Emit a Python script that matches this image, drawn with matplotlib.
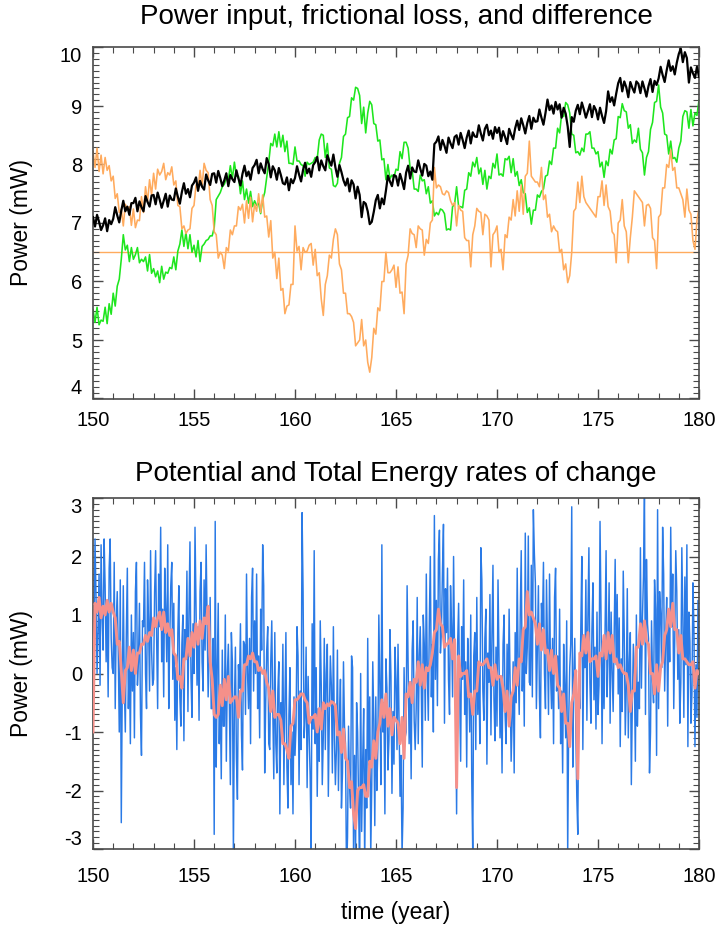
import numpy as np
import matplotlib
matplotlib.use("Agg")
import matplotlib.pyplot as plt
from matplotlib.ticker import MultipleLocator, FixedLocator, FuncFormatter

plt.rcParams['font.family'] = ['Liberation Sans', 'DejaVu Sans']
plt.rcParams['axes.unicode_minus'] = False

# time axis: model years 150-180
YEAR_START = 150.0
YEAR_END = 180.0
N_COARSE = 301   # 0.1-year samples
N_FINE = 601     # 0.05-year samples (potential-energy rate)

# ---- upper panel (mW), 0.1-year samples ----
power_input = [
    7.10, 6.94, 7.14, 7.02, 6.88, 6.96, 7.08, 6.86, 7.05, 6.98,
    7.07, 7.27, 7.13, 7.01, 7.21, 7.38, 7.20, 7.28, 7.14, 7.34,
    7.34, 7.43, 7.20, 7.37, 7.27, 7.20, 7.46, 7.36, 7.28, 7.47,
    7.48, 7.32, 7.52, 7.40, 7.26, 7.38, 7.50, 7.28, 7.47, 7.40,
    7.39, 7.59, 7.45, 7.33, 7.53, 7.68, 7.50, 7.58, 7.44, 7.64,
    7.69, 7.78, 7.55, 7.72, 7.62, 7.57, 7.83, 7.73, 7.65, 7.84,
    7.85, 7.69, 7.89, 7.77, 7.63, 7.73, 7.85, 7.63, 7.82, 7.75,
    7.70, 7.90, 7.76, 7.64, 7.84, 7.98, 7.80, 7.88, 7.74, 7.94,
    7.99, 8.08, 7.85, 8.02, 7.92, 7.85, 8.11, 8.01, 7.78, 7.97,
    7.90, 7.74, 7.94, 7.82, 7.68, 7.66, 7.78, 7.56, 7.75, 7.68,
    7.77, 7.97, 7.83, 7.71, 7.91, 8.03, 7.85, 7.93, 7.79, 7.99,
    8.04, 8.13, 7.90, 8.07, 7.97, 7.90, 8.16, 8.06, 7.98, 8.17,
    7.95, 7.79, 7.99, 7.87, 7.73, 7.64, 7.76, 7.54, 7.73, 7.66,
    7.42, 7.62, 7.48, 7.10, 7.36, 7.33, 7.20, 6.98, 7.02, 7.19,
    7.39, 7.48, 7.25, 7.42, 7.32, 7.55, 7.81, 7.71, 7.63, 7.82,
    7.80, 7.64, 7.84, 7.72, 7.58, 7.86, 7.98, 7.76, 7.95, 7.88,
    7.87, 8.07, 7.93, 7.81, 8.01, 7.98, 7.80, 7.88, 7.74, 8.35,
    8.39, 8.48, 8.25, 8.42, 8.32, 8.20, 8.46, 8.36, 8.28, 8.47,
    8.50, 8.34, 8.54, 8.42, 8.28, 8.46, 8.58, 8.36, 8.55, 8.48,
    8.47, 8.67, 8.53, 8.41, 8.61, 8.68, 8.50, 8.58, 8.44, 8.64,
    8.54, 8.63, 8.40, 8.57, 8.47, 8.35, 8.61, 8.51, 8.43, 8.62,
    8.75, 8.59, 8.79, 8.67, 8.53, 8.71, 8.83, 8.61, 8.80, 8.73,
    8.74, 8.94, 8.80, 8.68, 8.88, 9.11, 8.93, 9.01, 8.87, 9.07,
    8.94, 9.03, 8.80, 8.97, 8.87, 8.65, 8.30, 8.81, 8.73, 8.92,
    9.02, 8.86, 9.06, 8.94, 8.80, 8.91, 9.03, 8.81, 9.00, 8.93,
    8.77, 8.97, 8.83, 8.71, 8.91, 9.25, 9.07, 9.15, 9.01, 9.21,
    9.39, 9.48, 9.25, 9.42, 9.32, 9.15, 9.41, 9.31, 9.23, 9.42,
    9.38, 9.22, 9.42, 9.30, 9.16, 9.34, 9.46, 9.24, 9.43, 9.36,
    9.47, 9.67, 9.53, 9.41, 9.61, 9.78, 9.60, 9.68, 9.54, 9.74,
    9.89, 9.98, 9.75, 9.92, 9.82, 9.40, 9.66, 9.56, 9.48, 9.67,
    9.50,
]

frictional_loss = [
    5.52, 5.30, 5.56, 5.26, 5.34, 5.32, 5.56, 5.28, 5.62, 5.44,
    5.80, 5.58, 5.92, 6.04, 6.38, 6.80, 6.54, 6.62, 6.34, 6.58,
    6.38, 6.46, 6.58, 6.32, 6.38, 6.34, 6.42, 6.18, 6.46, 6.14,
    6.22, 6.08, 6.18, 5.98, 6.26, 6.04, 6.16, 6.14, 6.24, 6.22,
    6.42, 6.20, 6.52, 6.64, 6.88, 6.60, 6.84, 6.56, 6.80, 6.50,
    6.62, 6.42, 6.70, 6.34, 6.60, 6.64, 6.70, 6.72, 6.78, 6.78,
    6.92, 7.40, 7.46, 7.52, 7.62, 7.66, 7.76, 7.74, 7.98, 7.76,
    8.04, 7.80, 7.80, 7.50, 7.72, 7.40, 7.58, 7.34, 7.54, 7.28,
    7.38, 7.30, 7.34, 7.16, 7.40, 7.52, 7.78, 8.04, 8.36, 8.32,
    8.52, 8.30, 8.56, 8.30, 8.50, 8.22, 8.40, 8.02, 8.02, 8.00,
    8.30, 8.06, 8.06, 8.00, 7.98, 7.80, 8.04, 8.00, 8.02, 8.04,
    8.12, 8.10, 8.42, 8.52, 8.50, 8.12, 8.36, 7.94, 7.92, 7.64,
    7.62, 7.68, 8.02, 8.12, 8.48, 8.52, 8.80, 8.82, 9.14, 9.10,
    9.32, 9.30, 9.18, 8.70, 8.98, 8.54, 8.88, 9.08, 9.02, 8.70,
    8.68, 8.40, 8.42, 8.08, 8.10, 7.74, 8.00, 7.76, 7.82, 7.78,
    7.92, 7.90, 8.22, 8.10, 8.38, 8.38, 8.28, 7.94, 7.90, 7.58,
    7.58, 7.54, 7.82, 7.72, 7.74, 7.50, 7.62, 7.34, 7.38, 7.12,
    7.18, 7.14, 7.24, 7.22, 7.16, 6.88, 6.90, 6.88, 7.28, 7.32,
    7.62, 7.28, 7.28, 7.26, 7.56, 7.58, 7.86, 7.80, 8.04, 7.96,
    8.12, 7.84, 7.94, 7.66, 7.90, 7.58, 7.80, 7.76, 8.02, 7.94,
    8.18, 7.82, 7.84, 7.80, 8.10, 8.08, 8.14, 7.86, 8.10, 7.80,
    7.88, 7.64, 7.74, 7.52, 7.50, 7.18, 7.26, 6.98, 7.22, 7.22,
    7.48, 7.44, 7.54, 7.58, 7.80, 7.82, 8.06, 8.00, 8.28, 8.28,
    8.62, 8.54, 8.86, 8.82, 9.06, 9.02, 8.88, 8.52, 8.50, 8.20,
    8.22, 8.16, 8.28, 8.22, 8.52, 8.52, 8.56, 8.28, 8.28, 8.18,
    8.22, 7.96, 8.04, 7.78, 8.06, 7.98, 8.26, 8.18, 8.42, 8.44,
    8.82, 8.80, 9.04, 8.92, 8.90, 8.62, 8.68, 8.36, 8.42, 8.38,
    8.62, 8.26, 8.20, 7.82, 8.12, 8.22, 8.60, 8.72, 9.06, 9.08,
    9.36, 8.98, 8.88, 8.52, 8.50, 8.18, 8.40, 8.10, 8.12, 8.04,
    8.28, 8.40, 8.82, 8.92, 8.90, 8.62, 8.94, 8.66, 8.88, 8.84,
    9.10,
]

difference = [
    8.22, 7.95, 8.28, 7.88, 8.16, 7.84, 8.12, 7.90, 7.98, 7.72,
    7.80, 7.42, 7.50, 7.18, 7.24, 6.95, 7.32, 7.22, 7.28, 6.96,
    7.24, 6.92, 7.05, 7.04, 7.45, 7.18, 7.62, 7.36, 7.74, 7.48,
    7.85, 7.58, 7.92, 7.82, 7.88, 8.02, 7.74, 7.86, 7.82, 7.96,
    7.65, 7.72, 7.30, 7.28, 6.90, 6.95, 6.82, 6.88, 6.90, 7.25,
    7.30, 7.65, 7.58, 7.90, 7.62, 8.02, 7.90, 7.86, 7.40, 7.30,
    6.85, 6.80, 6.40, 6.50, 6.45, 6.22, 6.58, 6.52, 6.88, 6.80,
    6.95, 6.95, 7.28, 7.22, 7.32, 7.00, 7.38, 7.08, 7.44, 7.02,
    7.32, 7.20, 7.50, 7.18, 7.48, 7.10, 7.12, 6.76, 7.04, 6.40,
    6.50, 6.05, 6.40, 5.85, 5.88, 5.45, 5.58, 5.60, 5.95, 5.95,
    6.95, 6.52, 6.60, 6.20, 6.58, 6.50, 6.52, 6.62, 6.65, 6.28,
    6.55, 6.10, 6.15, 5.70, 5.42, 5.95, 6.10, 6.45, 6.40, 6.72,
    6.90, 6.80, 6.30, 6.20, 5.80, 5.80, 5.45, 5.45, 5.40, 5.30,
    4.90, 4.95, 5.00, 5.35, 4.90, 5.00, 4.62, 4.45, 4.70, 5.20,
    5.10, 5.55, 5.50, 6.00, 6.00, 6.50, 6.15, 6.15, 6.20, 6.28,
    5.90, 6.25, 5.80, 5.82, 5.45, 6.30, 6.45, 6.90, 6.82, 6.80,
    6.58, 6.95, 6.90, 6.88, 6.45, 6.72, 6.65, 7.00, 7.05, 7.95,
    7.60, 7.65, 7.62, 7.50, 7.48, 7.55, 7.52, 7.38, 7.30, 7.35,
    6.95, 7.30, 7.22, 7.20, 6.75, 6.70, 6.70, 6.25, 6.80, 6.95,
    7.25, 7.20, 7.18, 6.80, 7.15, 7.12, 7.05, 6.25, 6.80, 6.85,
    6.95, 6.50, 6.55, 6.20, 6.80, 6.75, 7.10, 7.05, 7.40, 7.12,
    7.55, 7.20, 7.65, 7.15, 7.80, 7.85, 8.40, 7.80, 7.75, 7.70,
    7.70, 7.62, 7.95, 7.40, 7.48, 7.10, 7.15, 6.85, 6.95, 6.88,
    6.85, 6.50, 6.55, 6.20, 6.30, 5.98, 6.10, 6.50, 7.20, 7.25,
    7.70, 7.35, 7.80, 7.45, 7.35, 7.30, 7.25, 7.20, 7.15, 7.10,
    7.45, 7.45, 7.72, 7.30, 7.65, 7.28, 7.20, 6.85, 6.80, 6.32,
    7.00, 7.05, 7.40, 6.95, 6.85, 6.32, 6.75, 7.10, 7.55, 7.50,
    7.45, 7.40, 7.35, 6.95, 7.30, 7.32, 7.25, 6.75, 6.70, 6.22,
    7.10, 7.15, 7.60, 7.60, 8.00, 7.95, 8.25, 7.90, 7.95, 7.60,
    7.60, 7.50, 7.40, 7.10, 7.58, 7.22, 7.15, 6.70, 6.55, 7.05,
    7.25,
]

difference_mean = 6.5

# ---- lower panel (mW) ----
# potential-energy rate, 0.05-year samples (one row per year)
pe_rate = [
    -0.2, 0.8, 2.3, 1.3, 0.0, 0.7, 1.7, -0.2, 2.2, 1.0, 0.4, 2.3, 1.5, 0.2, 1.2, -0.4, 1.8, 2.3, 0.6, 0.1,
    0.0, 1.9, -0.6, 0.9, 1.4, 0.4, -1.0, 1.6, -2.55, -0.2, 1.5, -0.2, -1.0, 0.7, 1.8, -0.6, 0.3, -1.2, 1.0, -0.3,
    0.7, -1.1, 1.4, 1.9, -0.2, 0.2, 1.2, -0.7, -1.4, 0.9, 0.8, 1.9, 0.0, -0.6, 1.6, 0.9, -0.3, 2.1, 0.4, -0.2,
    -0.1, 1.4, 2.1, 0.6, -0.6, 1.7, 0.8, 2.5, 0.2, 1.1, -0.4, 1.8, 1.1, 0.2, 2.2, -0.6, 0.6, 1.5, 1.9, -0.1,
    1.2, -0.8, 0.1, -1.3, 0.7, 1.5, -0.4, -0.9, 0.5, 1.0, -1.15, 0.75, 0.25, 1.75, -0.65, 1.05, 2.25, -0.05, -0.75, 0.85,
    0.0, 2.5, 1.1, -0.2, 0.8, -0.8, 1.4, 1.9, 0.2, -0.3, 1.6, 0.4, 2.2, 0.9, -0.4, 0.3, 1.3, -0.6, -0.6, 0.6,
    -2.75, 2.6, -1.6, 0.1, 1.2, -1.2, -0.3, -1.8, 0.4, -0.9, -0.9, 1.0, -1.5, 0.0, 0.5, -0.5, -1.9, 0.7, 0.2, -3.1,
    -0.55, 0.45, -1.45, -2.15, 0.15, -0.25, 0.85, -1.05, -1.65, 0.55, 0.5, -0.7, 1.7, 0.0, -0.6, 0.6, -1.2, 1.3, 1.8, -0.3,
    0.9, 0.0, 1.7, -0.6, 0.3, -1.1, 1.1, 0.4, 2.2, 1.5, -1.7, -0.5, 0.4, 0.8, -1.2, -1.3, 0.2, 0.9, -0.6, -1.8,
    0.7, -1.2, -1.7, -0.3, 0.2, -2.4, -0.5, -1.0, 0.5, -1.9, -0.5, 0.7, -1.6, -2.3, -0.7, 0.1, -1.9, -1.0, -2.4, -0.4,
    -1.4, -0.9, 0.8, 0.3, -1.9, -0.3, -1.3, 2.75, 1.4, -1.1, -0.75, 0.45, -1.95, -0.05, -1.05, -1.75, -3.0, 0.85, -0.95, 2.1,
    -1.2, 0.1, -2.1, -0.6, -1.5, 0.9, -0.2, -1.9, -1.1, 0.6, -1.3, 0.0, 0.5, -2.1, -0.7, 0.3, -0.2, -1.7, 0.8, -1.1,
    -1.9, -1.3, 0.4, -2.0, -0.8, -0.1, -2.3, -1.7, 0.2, -0.9, -1.2, -3.5, -2.8, -0.9, -1.9, -2.3, 0.3, 0.1, -3.2, -1.4,
    -3.0, -0.5, -1.0, -2.3, -3.5, 0.0, -2.7, -1.5, -0.6, -3.3, -1.3, -2.3, 0.6, -1.7, -0.4, -3.1, -1.9, 0.2, -0.8, -2.6,
    -0.4, -2.0, -1.3, 1.0, -0.2, -1.9, 2.2, -1.0, -0.5, -2.4, 0.25, -0.25, -1.65, -1.15, 0.75, -0.05, -2.05, -0.65, -1.55, 0.45,
    -0.1, -1.3, 0.5, -0.8, -2.1, -1.4, -3.1, -2.3, 0.1, -1.1, -1.0, 1.5, 0.1, -1.2, -0.2, -1.8, 0.4, 0.9, -0.8, -1.3,
    -0.6, 1.3, -1.2, 0.3, 0.8, -0.2, -1.6, 1.0, 0.5, -0.8, 1.7, 0.0, -0.8, 0.9, 2.0, -0.4, 0.5, -1.0, 2.7, -0.1,
    1.25, -0.55, 1.95, 2.45, 0.35, 0.75, 1.75, 2.55, -0.85, 1.45, 0.7, 1.8, -0.1, -0.7, 1.5, 0.8, -0.4, 2.0, 0.3, -0.3,
    -2.4, 0.5, 1.2, -0.3, -1.5, 0.8, -0.1, 1.6, -0.7, 0.2, -1.6, 0.6, -0.1, -1.0, 1.0, -1.8, -3.1, 0.3, 0.7, -1.3,
    1.3, -0.7, 0.2, -1.2, 2.15, 1.6, -0.3, -0.8, 0.6, 1.1, -1.55, 0.35, -0.15, 1.35, -1.05, 0.65, 1.85, -0.45, -1.15, 0.45,
    -0.9, 1.6, 0.2, -1.1, -0.1, -1.7, 0.5, 1.0, -0.7, -1.2, 0.5, -0.7, 1.1, -0.2, -1.5, -0.8, 0.2, -1.7, 0.7, -0.5,
    1.8, 0.1, -0.7, 1.0, 2.1, -0.3, 0.6, -0.9, 2.4, 0.0, 0.45, 2.35, -0.15, -0.2, 1.85, -0.4, 2.8, 2.05, 1.55, -0.6,
    0.5, 1.5, -0.4, -1.1, 1.2, 0.8, 1.9, 0.0, -0.6, 1.6, 0.5, -0.7, 1.7, 0.0, -0.6, 0.6, -1.2, 1.3, 1.8, -0.3,
    0.3, -0.6, 1.1, -1.2, -0.3, -1.7, 0.5, -0.2, -1.1, 0.9, -3.1, -0.8, 0.1, 0.5, 2.85, -1.6, -0.1, 0.6, -0.9, -2.1,
    -2.75, -0.1, -0.6, 0.8, 2.0, -1.3, 0.6, 0.1, 1.6, -0.8, 0.95, 2.15, -0.15, -0.85, 0.75, 1.55, -0.45, 0.45, -0.95, 1.05,
    -0.7, -0.2, 2.6, 1.0, -1.2, 0.4, -0.6, 0.7, 2.1, -0.4, 0.35, 1.55, -0.85, 1.05, 0.05, -0.65, 0.65, 1.95, 0.15, 1.35,
    -0.35, 0.95, -1.25, 0.25, -0.65, 1.75, 0.65, -1.05, -0.25, 1.45, -1.1, 0.2, 0.7, -1.9, -0.5, 0.5, 0.0, -1.5, 1.0, -0.9,
    -0.15, -0.6, 2.15, -0.25, 0.95, 1.65, 3.1, -0.7, 1.95, 0.85, 0.6, -1.7, -1.0, 0.9, -0.1, -0.5, 1.6, 1.1, -1.4, 2.8,
    -0.6, 1.4, 1.0, 0.1, 2.5, 1.7, -0.3, 0.6, 1.3, -0.9, 1.1, 0.2, 2.5, 0.8, 1.7, -0.6, 0.6, 2.1, 1.4, -0.1,
    0.75, -0.85, -0.15, 2.15, 0.95, -0.75, 1.65, 0.15, 2.2, -1.25, 1.05, 0.55, -0.85, -0.35, 1.55, 0.75, -1.25, 0.15, -0.75, 1.25,
    0.3,
]

# total-energy rate, 0.1-year samples
te_rate = [
    -1.00, 1.20, 1.05, 1.30, 0.95, 1.15, 1.00, 1.25, 1.05, 1.20,
    1.05, 0.95, 0.50, 0.55, 0.05, -0.50, 0.05, 0.10, 0.45, 0.05,
    0.40, 0.00, 0.35, 0.35, 0.50, 0.50, 0.65, 0.55, 0.70, 0.65,
    0.95, 0.80, 0.95, 1.05, 0.75, 1.05, 0.70, 0.85, 0.65, 0.75,
    0.35, 0.30, -0.10, -0.05, -0.25, 0.25, 0.25, 0.60, 0.30, 0.70,
    0.45, 0.85, 0.50, 0.90, 0.60, 0.95, 0.85, 1.15, 0.20, -0.10,
    -0.70, -0.75, -0.70, -0.20, -0.55, -0.10, -0.45, -0.05, -0.50, -0.45,
    -0.40, -0.40, -0.75, -0.30, -0.30, 0.15, 0.15, 0.30, 0.25, 0.35,
    0.20, 0.20, 0.05, 0.10, 0.00, 0.05, -0.15, -0.25, -0.65, -0.30,
    -0.75, -0.70, -0.70, -0.80, -1.20, -1.20, -1.30, -1.45, -0.90, -0.85,
    -0.45, -0.45, -0.40, -0.35, -0.35, -0.45, -0.50, -0.85, -0.75, -0.75,
    -0.70, -1.00, -0.60, -0.95, -0.50, -0.60, -0.52, -0.55, -0.48, -0.50,
    -0.55, -1.05, -1.00, -1.35, -0.95, -1.45, -1.50, -1.95, -1.85, -2.40,
    -2.65, -2.00, -1.95, -1.95, -1.90, -2.10, -2.10, -1.50, -1.60, -1.15,
    -1.45, -1.00, -0.85, -0.45, -0.75, -0.35, -0.90, -0.60, -1.05, -0.75,
    -0.80, -0.85, -1.20, -0.75, -1.45, -0.35, -0.40, -0.15, -0.50, -0.10,
    -0.15, 0.20, -0.20, 0.15, -0.25, 0.10, 0.05, 0.15, 0.35, 0.70,
    0.75, 1.10, 0.85, 0.80, 0.45, 0.50, 0.52, 0.60, 0.25, 0.58,
    -1.95, 0.30, -0.05, 0.00, 0.00, 0.05, -0.40, -0.35, -0.70, -0.30,
    -0.30, 0.20, 0.15, 0.15, 0.20, 0.25, 0.10, 0.10, -0.20, 0.15,
    -0.10, -0.05, -0.05, -0.25, -0.65, -0.30, -0.90, -0.40, -0.30, 0.10,
    -0.20, 0.25, 0.20, 0.75, 0.80, 1.40, 1.00, 1.05, 0.95, 0.85,
    0.50, 0.85, 0.40, 0.75, 0.35, 0.40, 0.05, 0.40, 0.00, 0.30,
    -0.20, -0.25, -0.65, -0.35, -0.85, -0.85, -1.25, -0.50, -0.35, 0.05,
    -1.80, 0.35, 0.30, 0.65, 0.35, 0.70, 0.20, 0.25, 0.25, 0.30,
    -0.05, 0.35, 0.30, 0.65, 0.25, 0.70, 0.35, 0.65, 0.20, 0.25,
    0.10, 0.15, 0.05, 0.00, 0.00, -0.20, -0.65, -0.30, -0.30, 0.45,
    0.45, 0.85, 0.50, 0.90, 0.55, 0.50, 0.00, 0.00, -0.35, 0.15,
    -0.30, 0.10, 0.20, 0.65, 0.75, 1.10, 0.80, 1.20, 0.75, 0.75,
    0.35, 0.65, 0.25, 0.25, 0.20, 0.15, 0.15, 0.20, -0.25, 0.05,
    0.00,
]

top_yticks = [4, 5, 6, 7, 8, 9, 10]
bottom_yticks = [-3, -2, -1, 0, 1, 2, 3]
year_ticks = [150, 155, 160, 165, 170, 175, 180]

years = np.linspace(YEAR_START, YEAR_END, N_COARSE)
years_fine = np.linspace(YEAR_START, YEAR_END, N_FINE)

W, H = 717, 927
fig = plt.figure(figsize=(W / 100, H / 100), dpi=100)
ax_top = fig.add_axes([93 / W, 1 - 398.5 / H, 606 / W, 351 / H])
ax_bot = fig.add_axes([93 / W, 1 - 849 / H, 606 / W, 351 / H])

FRAME = '#4a4a4a'
int_fmt = FuncFormatter(lambda v, _: '%d' % round(v))


def style_axes(ax, yticks, xpad):
    ax.set_xlim(YEAR_START, YEAR_END)
    ax.set_ylim(yticks[0], yticks[-1])
    ax.xaxis.set_major_locator(FixedLocator(year_ticks))
    ax.xaxis.set_minor_locator(MultipleLocator(1))
    ax.yaxis.set_major_locator(FixedLocator(yticks))
    ax.yaxis.set_minor_locator(MultipleLocator(0.1))
    ax.yaxis.set_major_formatter(int_fmt)
    ax.xaxis.set_major_formatter(int_fmt)
    ax.tick_params(which='both', direction='in', top=True, right=True,
                   color=FRAME, labelcolor='black', labelsize=14.5)
    ax.tick_params(which='major', length=7, width=1.0)
    ax.tick_params(which='minor', length=4, width=0.8)
    ax.tick_params(axis='x', pad=xpad)
    ax.tick_params(axis='y', pad=8)
    for sp in ax.spines.values():
        sp.set_color(FRAME)
        sp.set_linewidth(1.2)
    ax.set_ylabel('Power (mW)', fontsize=16.5)
    ax.yaxis.set_label_coords(-0.099, 0.5)
    # keep the end labels inside the frame height
    ticks = ax.yaxis.get_major_ticks()
    ticks[0].label1.set_verticalalignment('bottom')
    ticks[-1].label1.set_verticalalignment('top')


style_axes(ax_top, top_yticks, 9)
ax_top.plot(years, power_input, color='black', lw=1.6, zorder=3)
ax_top.plot(years, frictional_loss, color='#1ee61e', lw=1.15, zorder=2)
ax_top.plot(years, difference, color='#ffab5e', lw=1.15, zorder=2)
ax_top.axhline(difference_mean, color='#ffab5e', lw=1.0, zorder=1)

style_axes(ax_bot, bottom_yticks, 13)
ax_bot.plot(years_fine, pe_rate, color='#2a7ae6', lw=1.05, zorder=2)
ax_bot.plot(years, te_rate, color='#f5908a', lw=2.1, zorder=3)

fig.text(396 / W, 1 - 17 / H, 'Power input, frictional loss, and difference',
         ha='center', va='center', fontsize=20)
fig.text(396 / W, 1 - 474 / H, 'Potential and Total Energy rates of change',
         ha='center', va='center', fontsize=20)
fig.text(396 / W, 1 - 912 / H, 'time (year)', ha='center', va='center',
         fontsize=16.5)

fig.savefig('out.png', dpi=100)
